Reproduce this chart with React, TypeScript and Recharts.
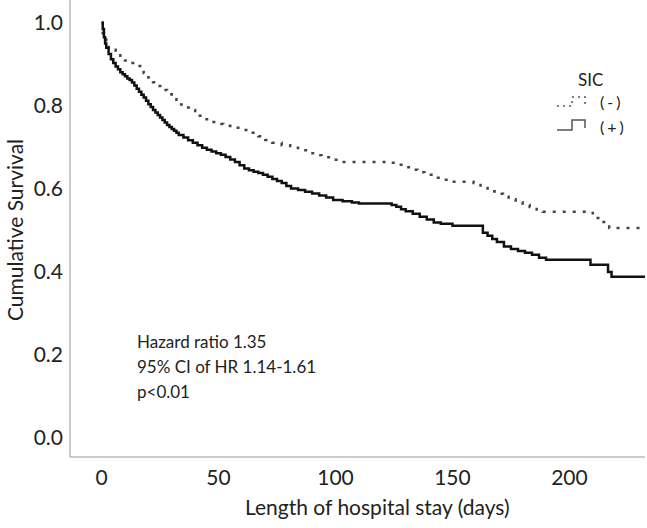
import { Line, LineChart, XAxis, YAxis } from 'recharts'

// SIC (+) group
const posDays = [0, 0.5, 1, 1.5, 2, 3, 4, 5, 6, 7, 8, 9, 10, 11, 12, 13, 14, 15, 16, 17, 18, 19, 20, 21, 22, 23, 24, 25, 26, 27, 28, 29, 30, 31, 32, 33, 35, 37, 39, 41, 43, 45, 47, 49, 51, 53, 55, 57, 59, 61, 63, 65, 67, 69, 71, 73, 75, 77, 79, 81, 84, 87, 90, 93, 96, 99, 103, 107, 110, 124, 126, 128, 130, 133, 136, 139, 142, 145, 150, 163, 165, 167, 169, 172, 175, 178, 181, 184, 187, 190, 209, 216.5, 218, 232.3]
const posSurv = [1.0, 0.985, 0.965, 0.95, 0.94, 0.925, 0.912, 0.903, 0.895, 0.888, 0.881, 0.876, 0.871, 0.866, 0.862, 0.856, 0.849, 0.841, 0.834, 0.827, 0.82, 0.812, 0.804, 0.797, 0.79, 0.784, 0.778, 0.772, 0.766, 0.76, 0.754, 0.749, 0.744, 0.74, 0.735, 0.73, 0.724, 0.717, 0.711, 0.705, 0.699, 0.694, 0.69, 0.686, 0.682, 0.677, 0.671, 0.665, 0.657, 0.649, 0.645, 0.641, 0.638, 0.634, 0.629, 0.624, 0.619, 0.614, 0.607, 0.601, 0.597, 0.593, 0.589, 0.584, 0.579, 0.573, 0.57, 0.567, 0.565, 0.561, 0.557, 0.551, 0.546, 0.54, 0.533, 0.526, 0.519, 0.516, 0.511, 0.494, 0.487, 0.479, 0.472, 0.461, 0.455, 0.45, 0.446, 0.441, 0.434, 0.429, 0.417, 0.4, 0.388, 0.388]

// SIC (-) group
const negDays = [0, 0.5, 1, 2, 3, 4.5, 6, 8, 10, 12, 14, 16.5, 18, 20, 22, 24, 26, 28, 30, 32, 34, 36, 38, 40, 42, 44, 46, 49, 52, 55, 59, 63.5, 67, 70, 73, 77, 80.6, 84, 88, 91, 94, 98, 102, 122, 126, 129, 132, 135, 138, 141.7, 145, 149, 159, 162, 165, 168, 171.6, 174, 177, 180, 183, 186, 188.6, 207.5, 210, 213, 217, 232.3]
const negSurv = [1.0, 0.975, 0.96, 0.948, 0.94, 0.935, 0.927, 0.917, 0.909, 0.903, 0.896, 0.887, 0.879, 0.868, 0.857, 0.848, 0.838, 0.828, 0.819, 0.811, 0.803, 0.796, 0.79, 0.783, 0.776, 0.768, 0.761, 0.756, 0.752, 0.747, 0.742, 0.735, 0.727, 0.718, 0.711, 0.705, 0.699, 0.693, 0.686, 0.681, 0.676, 0.67, 0.665, 0.663, 0.658, 0.652, 0.646, 0.64, 0.634, 0.627, 0.622, 0.617, 0.614, 0.602, 0.594, 0.588, 0.581, 0.575, 0.568, 0.561, 0.556, 0.55, 0.545, 0.542, 0.53, 0.52, 0.506, 0.503]

const xTicks = [0, 50, 100, 150, 200]
const yTicks = [0, 0.2, 0.4, 0.6, 0.8, 1.0]
const notes = ['Hazard ratio 1.35', '95% CI of HR 1.14-1.61', 'p<0.01']

const posData = posDays.map((day, i) => ({ day, surv: posSurv[i] }))
const negData = negDays.map((day, i) => ({ day, surv: negSurv[i] }))

const font = 'Lato, "Open Sans", sans-serif'

export default function App() {
  return (
    <div style={{ position: 'absolute', left: 0, top: 0, width: 647, height: 528, background: '#fff', fontFamily: font }}>
      <LineChart width={647} height={528} margin={{ top: 0, right: 2, bottom: 0, left: 0 }}>
        <XAxis
          type="number"
          dataKey="day"
          domain={[-13.5, 232.3]}
          ticks={xTicks}
          allowDataOverflow
          height={71}
          tickSize={0}
          tickMargin={13}
          tickLine={false}
          axisLine={{ stroke: '#999' }}
          tick={{ fill: '#222', fontSize: 21, fontFamily: font }}
        />
        <YAxis
          type="number"
          domain={[-0.046, 1.055]}
          ticks={yTicks}
          allowDataOverflow
          width={70}
          tickSize={0}
          tickMargin={7}
          tickLine={false}
          axisLine={{ stroke: '#999' }}
          tickFormatter={(v: number) => v.toFixed(1)}
          tick={{ fill: '#222', fontSize: 21, fontFamily: font }}
        />
        <Line data={negData} dataKey="surv" type="stepAfter" stroke="#444" strokeWidth={2.5} strokeDasharray="3 7" dot={false} isAnimationActive={false} />
        <Line data={posData} dataKey="surv" type="stepAfter" stroke="#111" strokeWidth={2.5} dot={false} isAnimationActive={false} />
      </LineChart>

      <div style={{ position: 'absolute', left: 137, top: 329, fontSize: 17, lineHeight: '25px', color: '#222' }}>
        {notes.map((n) => (
          <div key={n}>{n}</div>
        ))}
      </div>

      <div style={{ position: 'absolute', left: 245, top: 494, fontSize: 21, color: '#222', whiteSpace: 'nowrap' }}>
        Length of hospital stay (days)
      </div>
      <div
        style={{
          position: 'absolute',
          left: 14,
          top: 230,
          fontSize: 21,
          color: '#222',
          whiteSpace: 'nowrap',
          transform: 'translate(-50%, -50%) rotate(-90deg)',
        }}
      >
        Cumulative Survival
      </div>

      <svg style={{ position: 'absolute', left: 540, top: 60 }} width={107} height={80}>
        <text x={38} y={26} fontSize={17} fill="#222" fontFamily={font}>SIC</text>
        <polyline points="17,46 32,46 32,37 45,37 45,44" fill="none" stroke="#555" strokeWidth={1.5} strokeDasharray="2 4" />
        <text x={60} y={48} fontSize={16} fill="#222" fontFamily={font} letterSpacing={3}>(-)</text>
        <polyline points="17,70 32,70 32,60 45,60 45,68" fill="none" stroke="#555" strokeWidth={1.5} />
        <text x={60} y={73} fontSize={16} fill="#222" fontFamily={font} letterSpacing={3}>(+)</text>
      </svg>
    </div>
  )
}
